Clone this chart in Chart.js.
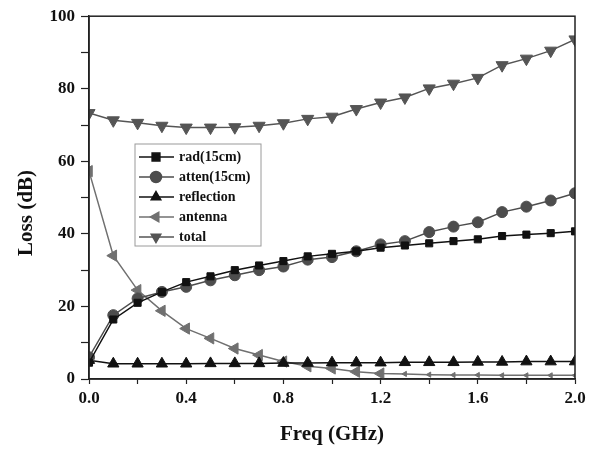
<!DOCTYPE html>
<html>
<head>
<meta charset="utf-8">
<script src="https://cdn.jsdelivr.net/npm/chart.js@4"></script>
<style>
html,body{margin:0;padding:0;background:#fff;}
#wrap{width:593px;height:451px;}
</style>
</head>
<body>
<div id="wrap"><canvas id="lossChart" width="593" height="451"></canvas></div>
<script>
// values, one point every 0.1 GHz
const freq=[0,0.1,0.2,0.3,0.4,0.5,0.6,0.7,0.8,0.9,1.0,1.1,1.2,1.3,1.4,1.5,1.6,1.7,1.8,1.9,2.0]
const rad=[4.5,16.4,21,24,26.7,28.3,30,31.3,32.5,33.8,34.5,35.2,36.2,36.8,37.4,38,38.5,39.4,39.8,40.2,40.7]
const atten=[6,17.6,22.2,24,25.4,27.2,28.6,30,31,32.9,33.6,35.2,37.1,38,40.5,42,43.2,46,47.5,49.2,51.2]
const reflection=[5.2,4.2,4.2,4.2,4.2,4.3,4.3,4.3,4.4,4.4,4.5,4.5,4.5,4.6,4.6,4.6,4.7,4.7,4.8,4.8,4.8]
const antenna=[57.3,34,24.5,18.8,13.9,11.2,8.4,6.6,4.8,3.5,2.9,2,1.5,1.4,1.2,1.1,1.1,1,1,1,1]
const total=[73.3,71.3,70.6,69.8,69.3,69.3,69.4,69.8,70.5,71.7,72.3,74.4,76.2,77.6,80.1,81.4,83,86.5,88.3,90.5,93.6]

const xTicks=[0,0.4,0.8,1.2,1.6,2.0]
const yTicks=[0,20,40,60,80,100]
const yTitle="Loss (dB)"

const FONT="'Liberation Serif', 'Times New Roman', serif"

function pts(arr){ return arr.map((v,i)=>({x:freq[i],y:v})) }

function series(label,arr,color,style,rot,r){
  return {
    label:label,
    data:pts(arr),
    borderColor:color,
    backgroundColor:color,
    borderWidth:1.5,
    pointStyle:style,
    rotation:rot,
    pointRadius:r,
    pointBorderColor:color,
    pointBackgroundColor:color,
    pointBorderWidth:1,
    tension:0
  }
}

const datasets=[
  series("rad(15cm)",rad,"#111","rect",0,5),
  series("atten(15cm)",atten,"#4d4d4d","circle",0,5.5),
  series("reflection",reflection,"#111","triangle",0,6.5),
  series("antenna",antenna,"#707070","triangle",270,6.5),
  series("total",total,"#555","triangle",180,7)
]
// antenna markers shrink once the curve flattens out
datasets[3].pointRadius=ctx=>(ctx.raw && ctx.raw.x>1.25 ? 3 : 6.5)

// frame on top/right, y title, inner legend box
const framePlugin={
  id:"frame",
  afterDraw(chart){
    const c=chart.ctx, a=chart.chartArea
    c.save()
    c.strokeStyle="#222"
    c.lineWidth=1.5
    c.strokeRect(a.left,a.top,a.right-a.left,a.bottom-a.top)

    // y axis title, sits a bit below the middle in the original
    c.save()
    c.translate(27,213)
    c.rotate(-Math.PI/2)
    c.font="bold 21px "+FONT
    c.fillStyle="#111"
    c.textAlign="center"
    c.textBaseline="middle"
    c.fillText(yTitle,0,0)
    c.restore()

    // legend
    const bx=135, by=144, bw=126, bh=102
    c.strokeStyle="#9a9a9a"
    c.lineWidth=1
    c.strokeRect(bx,by,bw,bh)
    c.font="bold 14px "+FONT
    c.textBaseline="middle"
    chart.data.datasets.forEach((ds,i)=>{
      const y=by+13+i*20
      c.strokeStyle=ds.borderColor
      c.lineWidth=1.5
      c.beginPath(); c.moveTo(bx+4,y); c.lineTo(bx+39,y); c.stroke()
      c.fillStyle=ds.backgroundColor
      Chart.helpers.drawPoint(c,{pointStyle:ds.pointStyle,rotation:ds.rotation,radius:5.5,borderWidth:1},bx+21,y)
      c.fillStyle="#111"
      c.fillText(ds.label,bx+44,y)
    })
    c.restore()
  }
}

new Chart(document.getElementById("lossChart"),{
  type:"line",
  data:{datasets:datasets},
  options:{
    responsive:false,
    animation:false,
    layout:{padding:{top:15,right:18,left:0,bottom:0}},
    plugins:{legend:{display:false},tooltip:{enabled:false}},
    scales:{
      x:{
        type:"linear",
        min:0,max:2,
        afterFit(s){ s.height=72 },
        afterBuildTicks(s){ s.ticks=[0,0.2,0.4,0.6,0.8,1.0,1.2,1.4,1.6,1.8,2.0].map(v=>({value:v})) },
        ticks:{
          color:"#111",
          font:{family:FONT,size:17,weight:"bold"},
          padding:4,
          maxRotation:0,
          autoSkip:false,
          callback:v=>xTicks.some(t=>Math.abs(t-v)<1e-6)?v.toFixed(1):""
        },
        grid:{drawOnChartArea:false,tickLength:5,color:"#222",tickWidth:1.2},
        border:{color:"#222",width:1.5},
        title:{display:true,text:"Freq (GHz)",color:"#111",font:{family:FONT,size:21,weight:"bold"},padding:{top:8}}
      },
      y:{
        min:0,max:100,
        afterFit(s){ s.width=89 },
        afterBuildTicks(s){ s.ticks=[0,10,20,30,40,50,60,70,80,90,100].map(v=>({value:v})) },
        ticks:{
          color:"#111",
          font:{family:FONT,size:17,weight:"bold"},
          padding:6,
          autoSkip:false,
          callback:v=>yTicks.includes(v)?String(v):""
        },
        grid:{drawOnChartArea:false,tickLength:8,color:"#222",tickWidth:1.2},
        border:{color:"#222",width:1.5},
        title:{display:false}
      }
    }
  },
  plugins:[framePlugin]
})
</script>
</body>
</html>
